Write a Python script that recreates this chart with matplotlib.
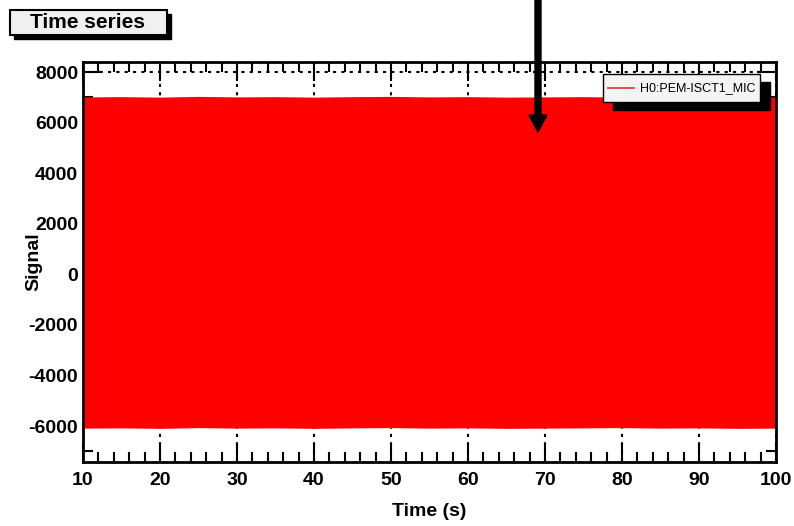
import matplotlib.pyplot as plt
from matplotlib.ticker import MultipleLocator
from matplotlib.patches import Rectangle, FancyArrow

# envelope of the microphone signal
t = [10, 15, 20, 25, 30, 35, 40, 45, 50, 55, 60, 65, 70, 75, 80, 85, 90, 95, 100]
sig_max = [7020, 7030, 7010, 7040, 7020, 7030, 7010, 7030, 7040, 7020, 7030, 7010, 7020, 7030, 7010, 7040, 7020, 7030, 7020]
sig_min = [-6080, -6070, -6090, -6060, -6080, -6070, -6090, -6070, -6060, -6080, -6070, -6090, -6080, -6070, -6060, -6080, -6070, -6090, -6080]
channel = 'H0:PEM-ISCT1_MIC'

plt.rcParams['font.family'] = ['Liberation Sans', 'DejaVu Sans']
plt.rcParams['axes.unicode_minus'] = False
fig = plt.figure(figsize=(7.94, 5.26), dpi=100)
ax = fig.add_axes([83/794, 1-462/526, (776-83)/794, (462-62)/526])

ax.fill_between(t, sig_min, sig_max, color='#ff0000', linewidth=0, zorder=2)
ax.set_xlim(10, 100)
ax.set_ylim(-7420, 8400)

ax.xaxis.set_major_locator(MultipleLocator(10))
ax.xaxis.set_minor_locator(MultipleLocator(2))
ax.yaxis.set_major_locator(MultipleLocator(2000))
ax.yaxis.set_minor_locator(MultipleLocator(1000))
ax.tick_params(which='both', direction='in', top=True, right=True, width=1.5, labelsize=14)
ax.tick_params(which='major', length=14)
ax.tick_params(which='minor', length=7)
ax.tick_params(axis='x', pad=7)
for lab in ax.get_xticklabels() + ax.get_yticklabels():
    lab.set_fontweight('bold')
for s in ax.spines.values():
    s.set_linewidth(2)
ax.set_axisbelow(True)
ax.grid(True, color='black', linestyle=(0, (1.5, 2.5)), linewidth=1.5, zorder=1)

ax.set_xlabel('Time (s)', fontsize=14, fontweight='bold', labelpad=10)
ax.set_ylabel('Signal', fontsize=14, fontweight='bold', labelpad=-10)

# title box with shadow
fig.patches.append(Rectangle((14/794, 1-39/526), 157/794, 25/526, transform=fig.transFigure,
                             facecolor='black', edgecolor='black', zorder=1))
fig.patches.append(Rectangle((10/794, 1-35/526), 157/794, 25/526, transform=fig.transFigure,
                             facecolor='#f0f0f0', edgecolor='black', linewidth=1.5, zorder=2))
fig.text(87/794, 1-23/526, 'Time series', ha='center', va='center', fontsize=15, fontweight='bold', zorder=3)

# legend box with shadow
fig.patches.append(Rectangle((613/794, 1-110/526), 157/794, 28/526, transform=fig.transFigure,
                             facecolor='black', edgecolor='black', zorder=5))
fig.patches.append(Rectangle((603/794, 1-102/526), 157/794, 28/526, transform=fig.transFigure,
                             facecolor='#f4f4f4', edgecolor='black', linewidth=1, zorder=6))
fig.lines.append(plt.Line2D([608/794, 634/794], [1-88/526, 1-88/526], transform=fig.transFigure,
                            color='#e03030', linewidth=1.2, zorder=7))
fig.text(640/794, 1-88/526, channel, ha='left', va='center', fontsize=9, zorder=7)

# arrow pointing into the plot
fig.patches.append(FancyArrow(538/794, 1.0, 0, -132/526, width=6/794,
                   head_width=18/794, head_length=17/526, length_includes_head=True,
                   transform=fig.transFigure, color='black', zorder=8))

plt.savefig('out.png', dpi=100)
